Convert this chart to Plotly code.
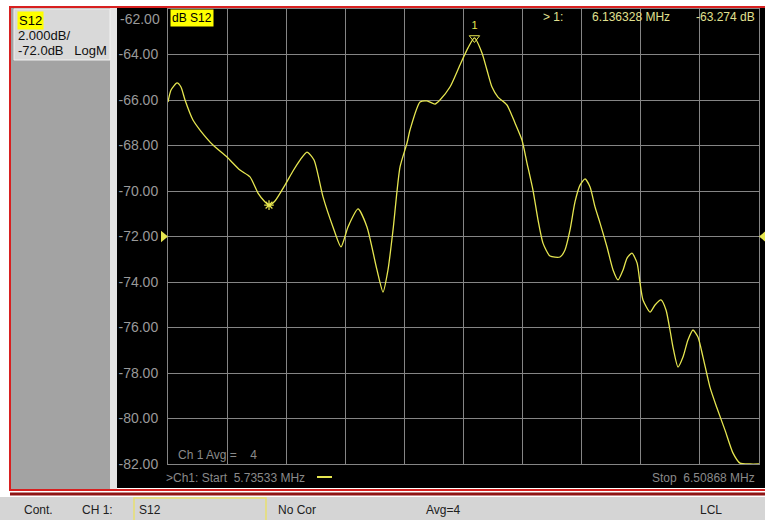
import plotly.graph_objects as go

# S12 trace (MHz, dB)
freq_mhz = [5.7353, 5.7393, 5.7471, 5.7523, 5.7576, 5.7680, 5.7772, 5.7942, 5.8125, 5.8295,
            5.8426, 5.8531, 5.8623, 5.8675, 5.8753, 5.8884, 5.8989, 5.9081, 5.9172, 5.9264,
            5.9382, 5.9512, 5.9617, 5.9709, 5.9840, 5.9957, 6.0088, 6.0167, 6.0232, 6.0298,
            6.0389, 6.0481, 6.0520, 6.0651, 6.0742, 6.0847, 6.0912, 6.1043, 6.1174, 6.1279,
            6.1363, 6.1462, 6.1527, 6.1593, 6.1671, 6.1789, 6.1894, 6.1985, 6.2051, 6.2129,
            6.2195, 6.2260, 6.2352, 6.2483, 6.2548, 6.2614, 6.2679, 6.2745, 6.2810, 6.2876,
            6.2941, 6.3007, 6.3098, 6.3177, 6.3242, 6.3308, 6.3360, 6.3425, 6.3491, 6.3530,
            6.3569, 6.3661, 6.3726, 6.3804, 6.3870, 6.3922, 6.3961, 6.4027, 6.4092, 6.4157,
            6.4223, 6.4288, 6.4354, 6.4445, 6.4537, 6.4642, 6.4747, 6.4838, 6.4969, 6.5087]
s12_db = [-66.09, -65.56, -65.25, -65.43, -66.00, -66.88, -67.32, -67.98, -68.51, -69.08,
          -69.38, -70.09, -70.48, -70.62, -70.44, -69.74, -69.12, -68.64, -68.29, -68.64,
          -70.26, -71.58, -72.46, -71.58, -70.79, -71.58, -73.47, -74.44, -73.47, -71.71,
          -68.95, -67.89, -67.32, -66.09, -66.04, -66.18, -66.00, -65.43, -64.46, -63.71,
          -63.27, -63.93, -64.68, -65.43, -65.87, -66.22, -67.01, -67.76, -68.77, -69.96,
          -71.27, -72.29, -72.86, -72.90, -72.59, -71.71, -70.48, -69.74, -69.47, -69.82,
          -70.70, -71.41, -72.46, -73.47, -73.91, -73.47, -72.95, -72.73, -73.16, -74.04,
          -74.79, -75.32, -75.01, -74.79, -75.23, -76.11, -76.86, -77.74, -77.30, -76.55,
          -76.11, -76.42, -77.30, -78.62, -79.54, -80.51, -81.52, -81.96, -82.00, -82.00]

start_mhz = 5.73533
stop_mhz = 6.50868
y_ticks = [-62, -64, -66, -68, -70, -72, -74, -76, -78, -80, -82]
y_ticktext = ["-%.2f" % abs(v) for v in y_ticks]
ref_level = -72.0

m1_freq = [6.136328]
m1_db = [-63.274]
m2_freq = [5.8675]
m2_db = [-70.62]

YEL = "#e6e650"
GRID = "#858585"
TXT = "#9a9a9a"
FONT = "Liberation Sans, Arial, sans-serif"

# plot area in screen pixels
L, R, T, B = 168, 759, 9, 464
W, H = 765, 520

def px(x):
    return (x - L) / (R - L)

def py(y):
    return (B - y) / (B - T)

shapes = []
annotations = []

def rect(x0, y0, x1, y1, fill=None, line=None, lw=1, layer="below"):
    shapes.append(dict(type="rect", xref="paper", yref="paper",
                       x0=px(x0), x1=px(x1), y0=py(y1), y1=py(y0),
                       fillcolor=fill if fill else "rgba(0,0,0,0)",
                       line=dict(color=line if line else "rgba(0,0,0,0)", width=lw if line else 0),
                       layer=layer))

def label(txt, x, y, color, size=12, xanchor="left", bg=None, family=FONT):
    annotations.append(dict(text=txt, x=px(x), y=py(y), xref="paper", yref="paper",
                            showarrow=False, xanchor=xanchor, yanchor="middle",
                            font=dict(color=color, size=size, family=family),
                            bgcolor=bg, borderpad=1))

# window chrome
rect(0, 497, 765, 520, fill="#d5d5d5")
rect(117, 8, 766, 488, fill="#000000")
rect(110, 8, 117, 489, fill="#e4e4e4")
rect(11, 8, 110, 489, fill="#a3a3a3")
rect(14, 9, 110, 60, fill="#d9d9d9", line="#f0f0f0")
rect(10, 7, 766, 490, line="#d82020", lw=2)
shapes.append(dict(type="line", xref="paper", yref="paper", x0=px(10), x1=px(766),
                   y0=py(494), y1=py(494), line=dict(color="#8e1515", width=3)))
rect(134, 498, 266, 521, line="#e8e070", lw=1.5)

# reference level arrows
shapes.append(dict(type="path", xref="paper", yref="y", fillcolor=YEL, line=dict(width=0),
                   path="M %f,%f L %f,%f L %f,%f Z" % (px(161), ref_level + 0.25, px(168), ref_level,
                                                      px(161), ref_level - 0.25)))
shapes.append(dict(type="path", xref="paper", yref="y", fillcolor=YEL, line=dict(width=0),
                   path="M %f,%f L %f,%f L %f,%f Z" % (px(766), ref_level + 0.25, px(759), ref_level,
                                                      px(766), ref_level - 0.25)))
# short yellow trace key under the grid
shapes.append(dict(type="line", xref="paper", yref="paper", x0=px(317), x1=px(332),
                   y0=py(477), y1=py(477), line=dict(color=YEL, width=2)))

# left panel text
label("S12", 17, 20, "#000000", size=13, bg="#ffff00")
label("2.000dB/", 16, 35, "#101010", size=13)
label("-72.0dB\u00a0\u00a0\u00a0LogM", 16, 50, "#101010", size=13)

# top tick label sits just inside the screen, below its grid line
label(y_ticktext[0], 162, 19, TXT, size=14, xanchor="right")
y_ticktext[0] = ""

# on-screen annotations
label("dB S12", 170, 18, "#000000", size=12, bg="#ffff00")
label("> 1:", 541, 17, "#e0e090", size=12)
label("6.136328 MHz", 590, 17, "#e0e090", size=12)
label("-63.274 dB", 757, 17, "#e0e090", size=12, xanchor="right")
label("Ch 1 Avg =\u00a0\u00a0\u00a0\u00a04", 176, 455, "#8a8a8a", size=12)
label(">Ch1: Start\u00a0\u00a05.73533 MHz", 164, 478, "#8a8a8a", size=12)
label("Stop\u00a0\u00a06.50868 MHz", 757, 478, "#8a8a8a", size=12, xanchor="right")

# status bar
NARROW = "Liberation Sans Narrow, Liberation Sans, Arial, sans-serif"
label("Cont.", 22, 510, "#202020", size=12, family=NARROW)
label("CH 1:", 80, 510, "#202020", size=12, family=NARROW)
label("S12", 137, 510, "#202020", size=12, family=NARROW)
label("No Cor", 276, 510, "#202020", size=12, family=NARROW)
label("Avg=4", 424, 510, "#202020", size=12, family=NARROW)
label("LCL", 698, 510, "#202020", size=12, family=NARROW)

fig = go.Figure()
fig.add_trace(go.Scatter(x=freq_mhz, y=s12_db, mode="lines",
                         line=dict(color=YEL, width=1.3, shape="spline", smoothing=0.6),
                         showlegend=False, hoverinfo="x+y"))
fig.add_trace(go.Scatter(x=m1_freq, y=m1_db, mode="markers+text", text=["1"],
                         textposition="top center", textfont=dict(color=YEL, size=11, family=FONT),
                         marker=dict(symbol="triangle-down-open", size=9, color=YEL,
                                     line=dict(width=1, color=YEL)),
                         showlegend=False, cliponaxis=False))
fig.add_trace(go.Scatter(x=m2_freq, y=m2_db, mode="markers",
                         marker=dict(symbol="asterisk-open", size=8, color=YEL,
                                     line=dict(width=1.2, color=YEL)),
                         showlegend=False, cliponaxis=False))

fig.update_layout(
    width=W, height=H,
    margin=dict(l=L, r=W - R, t=T, b=H - B, pad=0),
    paper_bgcolor="#ffffff", plot_bgcolor="#000000",
    shapes=shapes, annotations=annotations,
    xaxis=dict(range=[start_mhz, stop_mhz], tick0=start_mhz, dtick=(stop_mhz - start_mhz) / 10,
               showticklabels=False, ticks="", showgrid=True, gridcolor=GRID, gridwidth=1,
               showline=True, linecolor=GRID, linewidth=1, mirror=True, zeroline=False),
    yaxis=dict(range=[-82, -62], tickvals=y_ticks, ticktext=y_ticktext,
               tickfont=dict(color=TXT, size=14, family=FONT), ticks="", ticklabelstandoff=6,
               showgrid=True, gridcolor=GRID, gridwidth=1,
               showline=True, linecolor=GRID, linewidth=1, mirror=True, zeroline=False),
)

# page body has a default 8px margin; drop it so the figure fills the window
fig.write_html("out.html", config={"displayModeBar": False},
               post_script="document.body.style.margin='0';")
